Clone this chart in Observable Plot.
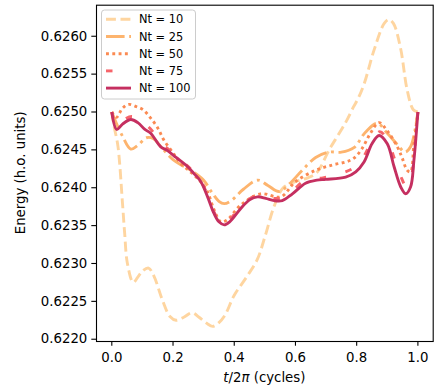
<!DOCTYPE html>
<html><head><meta charset="utf-8">
<script src="https://cdn.jsdelivr.net/npm/d3@7"></script>
<script src="https://cdn.jsdelivr.net/npm/@observablehq/plot@0.6"></script>
<style>body{margin:0;background:#fff} #chart{width:436px;height:391px}</style>
</head><body><div id="chart"></div>
<script>
// Series labels
const seriesNames = ["Nt = 10", "Nt = 25", "Nt = 50", "Nt = 75", "Nt = 100"];

// Nt = 10
const t10 = [0, 0.008, 0.02, 0.035, 0.042, 0.051, 0.07, 0.085, 0.1, 0.12, 0.138, 0.165, 0.19, 0.21, 0.235, 0.262, 0.285, 0.31, 0.33, 0.35, 0.37, 0.40, 0.44, 0.475, 0.50, 0.53, 0.56, 0.60, 0.64, 0.67, 0.71, 0.74, 0.765, 0.79, 0.805, 0.825, 0.857, 0.89, 0.905, 0.92, 0.943, 0.965, 0.985, 1.0];
const e10 = [0.62500, 0.62480, 0.62455, 0.62379, 0.62340, 0.62300, 0.62275, 0.62282, 0.62290, 0.62294, 0.62283, 0.62252, 0.62230, 0.62225, 0.62229, 0.62235, 0.62229, 0.62221, 0.62217, 0.62222, 0.62232, 0.62258, 0.62282, 0.62305, 0.62335, 0.62375, 0.62400, 0.62408, 0.62413, 0.62420, 0.62450, 0.62470, 0.62487, 0.62507, 0.62518, 0.62538, 0.62582, 0.62617, 0.62622, 0.62617, 0.62585, 0.62529, 0.62503, 0.62500];

// Nt = 25
const t25 = [0, 0.012, 0.035, 0.062, 0.085, 0.113, 0.135, 0.165, 0.2, 0.236, 0.27, 0.3, 0.33, 0.35, 0.367, 0.39, 0.43, 0.476, 0.51, 0.546, 0.58, 0.622, 0.666, 0.709, 0.75, 0.791, 0.828, 0.867, 0.9, 0.933, 0.958, 0.976, 0.99, 1.0];
const e25 = [0.62500, 0.62488, 0.62468, 0.62451, 0.62456, 0.62466, 0.62465, 0.62452, 0.62437, 0.62428, 0.62420, 0.62410, 0.62392, 0.62382, 0.62379, 0.62383, 0.62398, 0.62410, 0.62403, 0.62395, 0.62405, 0.62423, 0.62440, 0.62447, 0.62447, 0.62453, 0.62473, 0.62485, 0.62472, 0.62457, 0.62447, 0.62454, 0.62475, 0.62500];

// Nt = 50
const t50 = [0, 0.015, 0.035, 0.055, 0.08, 0.102, 0.125, 0.15, 0.17, 0.2, 0.225, 0.26, 0.29, 0.312, 0.335, 0.356, 0.375, 0.421, 0.486, 0.552, 0.6, 0.666, 0.72, 0.764, 0.791, 0.818, 0.845, 0.873, 0.9, 0.933, 0.949, 0.965, 0.976, 0.987, 1.0];
const e50 = [0.62500, 0.62493, 0.62505, 0.62510, 0.62507, 0.62503, 0.62493, 0.62479, 0.62463, 0.62446, 0.62432, 0.62420, 0.62408, 0.62395, 0.62370, 0.62355, 0.62357, 0.62377, 0.62392, 0.62388, 0.62408, 0.62423, 0.62430, 0.62434, 0.62439, 0.62452, 0.62472, 0.62486, 0.62475, 0.62454, 0.62439, 0.62423, 0.62421, 0.62458, 0.62500];

// Nt = 75
const t75 = [0, 0.016, 0.04, 0.065, 0.09, 0.11, 0.13, 0.16, 0.187, 0.21, 0.247, 0.27, 0.291, 0.313, 0.334, 0.35, 0.365, 0.385, 0.432, 0.476, 0.53, 0.557, 0.59, 0.633, 0.69, 0.75, 0.797, 0.824, 0.85, 0.875, 0.9, 0.922, 0.944, 0.962, 0.976, 0.988, 1.0];
const e75 = [0.62500, 0.62482, 0.62490, 0.62494, 0.62490, 0.62484, 0.62476, 0.62459, 0.62450, 0.62441, 0.62429, 0.62419, 0.62409, 0.62390, 0.62368, 0.62357, 0.62353, 0.62358, 0.62380, 0.62390, 0.62386, 0.62386, 0.62396, 0.62410, 0.62413, 0.62419, 0.62428, 0.62442, 0.62462, 0.62474, 0.62464, 0.62440, 0.62415, 0.62402, 0.62410, 0.62445, 0.62500];

// Nt = 100
const t100 = [0, 0.016, 0.035, 0.062, 0.085, 0.108, 0.127, 0.16, 0.182, 0.21, 0.247, 0.27, 0.291, 0.313, 0.334, 0.35, 0.367, 0.385, 0.42, 0.45, 0.476, 0.503, 0.53, 0.557, 0.59, 0.633, 0.67, 0.699, 0.764, 0.797, 0.824, 0.85, 0.873, 0.9, 0.922, 0.944, 0.96, 0.976, 0.987, 1.0];
const e100 = [0.62500, 0.62477, 0.62484, 0.62490, 0.62486, 0.62477, 0.62472, 0.62454, 0.62449, 0.62440, 0.62428, 0.62418, 0.62408, 0.62388, 0.62366, 0.62355, 0.62351, 0.62355, 0.62372, 0.62384, 0.62388, 0.62386, 0.62383, 0.62383, 0.62392, 0.62406, 0.62410, 0.62411, 0.62414, 0.62421, 0.62434, 0.62458, 0.62469, 0.62458, 0.62428, 0.62401, 0.62392, 0.62401, 0.62436, 0.62500];

// Axis ticks
const xTicks = [0.0, 0.2, 0.4, 0.6, 0.8, 1.0];
const yTicks = [0.6220, 0.6225, 0.6230, 0.6235, 0.6240, 0.6245, 0.6250, 0.6255, 0.6260];

// Styles
const colors = ["#fed5a0", "#fdb46e", "#fb8a52", "#f6646a", "#c52f60"];
const dashes = ["9.9,4.6", "18.6,4.6,2.9,4.6", "2.9,3.4", "6.5,20", "none"];
const lw = 2.9;

const ts = [t10, t25, t50, t75, t100];
const es = [e10, e25, e50, e75, e100];

const W = 436, H = 391, mL = 96, mR = 3.3, mT = 4.7, mB = 50;

const lineMarks = seriesNames.map((name, i) => {
  const data = ts[i].map((t, j) => ({t, e: es[i][j]}));
  return Plot.line(data, {
    x: "t", y: "e", stroke: colors[i], strokeWidth: lw,
    strokeDasharray: dashes[i], strokeLinecap: "butt", strokeLinejoin: "round",
    curve: "catmull-rom"
  });
});

const chart = Plot.plot({
  width: W, height: H,
  marginLeft: mL, marginRight: mR, marginTop: mT, marginBottom: mB,
  style: {fontFamily: "DejaVu Sans", fontSize: "13.3px", color: "black", background: "white", overflow: "visible"},
  x: {domain: [-0.05, 1.05]},
  y: {domain: [0.62197, 0.62641]},
  marks: [
    ...lineMarks,
    Plot.frame({stroke: "black", strokeWidth: 1.1}),
    Plot.axisX({ticks: xTicks, tickFormat: d3.format(".1f"), tickSize: 4.7, tickPadding: 6, label: null, strokeWidth: 1.1}),
    Plot.axisY({ticks: yTicks, tickFormat: d3.format(".4f"), tickSize: 4.7, tickPadding: 4.5, label: null, strokeWidth: 1.1})
  ]
});
document.getElementById("chart").appendChild(chart);

const svg = d3.select(chart);
// X label
const xl = svg.append("text")
  .attr("x", (mL + (W - mR)) / 2).attr("y", 382)
  .attr("text-anchor", "middle").attr("font-size", "13.3px").attr("fill", "black");
xl.append("tspan").attr("font-style", "italic").text("t");
xl.append("tspan").text("/2");
xl.append("tspan").attr("font-style", "italic").text("π");
xl.append("tspan").text(" (cycles)");

// Y label
svg.append("text")
  .attr("transform", `translate(24.5,${(mT + H - mB) / 2}) rotate(-90)`)
  .attr("text-anchor", "middle").attr("font-size", "13.3px").attr("fill", "black")
  .text("Energy (h.o. units)");

// Legend
const lg = svg.append("g").attr("text-anchor", "start");
lg.append("rect").attr("x", 101.5).attr("y", 10).attr("width", 94).attr("height", 89)
  .attr("rx", 3).attr("fill", "white").attr("fill-opacity", 0.8)
  .attr("stroke", "#cccccc").attr("stroke-width", 1);
seriesNames.forEach((name, i) => {
  const y = 19.3 + i * 17.2;
  lg.append("line").attr("x1", 106).attr("x2", 131).attr("y1", y).attr("y2", y)
    .attr("stroke", colors[i]).attr("stroke-width", lw)
    .attr("stroke-dasharray", dashes[i]);
  lg.append("text").attr("x", 139).attr("y", y).attr("dy", "0.36em")
    .attr("text-anchor", "start")
    .attr("font-size", "11.4px").attr("fill", "black").text(name);
});
</script>
</body></html>
